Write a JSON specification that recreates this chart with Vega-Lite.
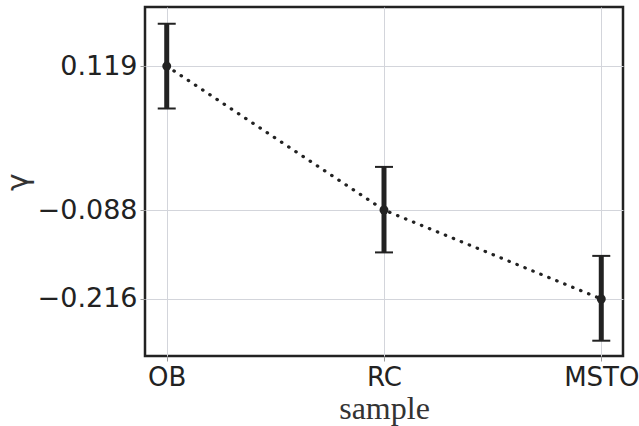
{
  "$schema": "https://vega.github.io/schema/vega-lite/v6.json",
  "width": 478,
  "height": 349,
  "autosize": {"type": "none"},
  "padding": {"left": 145, "top": 7, "right": 16, "bottom": 70},
  "background": "white",
  "config": {
    "view": {"stroke": "#222222", "strokeWidth": 2.5},
    "axis": {
      "domain": false,
      "grid": true,
      "gridColor": "#d3d5db",
      "gridWidth": 1,
      "tickSize": 5,
      "tickColor": "#999999",
      "labelFont": "DejaVu Sans",
      "labelColor": "#222222",
      "labelPadding": 3,
      "titleFontWeight": "normal",
      "titleColor": "#333333"
    }
  },
  "data": {
    "values": [
      {"sample": "OB", "gamma": 0.119, "lo": 0.058, "hi": 0.180},
      {"sample": "RC", "gamma": -0.088, "lo": -0.149, "hi": -0.026},
      {"sample": "MSTO", "gamma": -0.216, "lo": -0.276, "hi": -0.154}
    ]
  },
  "encoding": {
    "x": {
      "field": "sample",
      "type": "nominal",
      "sort": ["OB", "RC", "MSTO"],
      "scale": {"type": "point", "padding": 0.1},
      "axis": {
        "title": "sample",
        "titleFont": "Liberation Serif",
        "titleFontSize": 32,
        "titlePadding": 3,
        "labelFontSize": 26,
        "labelAngle": 0
      }
    }
  },
  "layer": [
    {
      "mark": {"type": "line", "color": "#222222", "strokeWidth": 3.2, "strokeDash": [0.5, 8.1], "strokeCap": "round"},
      "encoding": {
        "y": {
          "field": "gamma",
          "type": "quantitative",
          "scale": {"domain": [-0.298, 0.204], "nice": false, "zero": false},
          "axis": {
            "title": "γ",
            "titleFont": "DejaVu Sans",
            "titleFontSize": 30,
            "titlePadding": 4,
            "labelFontSize": 27,
            "values": [0.119, -0.088, -0.216],
            "labelExpr": "replace(format(datum.value, '.3f'), '-', '−')"
          }
        }
      }
    },
    {
      "mark": {"type": "rule", "color": "#222222", "strokeWidth": 5},
      "encoding": {
        "y": {"field": "lo", "type": "quantitative"},
        "y2": {"field": "hi"}
      }
    },
    {
      "mark": {"type": "tick", "color": "#222222", "size": 18, "thickness": 2, "opacity": 1},
      "encoding": {"y": {"field": "hi", "type": "quantitative"}}
    },
    {
      "mark": {"type": "tick", "color": "#222222", "size": 18, "thickness": 2, "opacity": 1},
      "encoding": {"y": {"field": "lo", "type": "quantitative"}}
    },
    {
      "mark": {"type": "point", "filled": true, "color": "#222222", "size": 80, "opacity": 1},
      "encoding": {"y": {"field": "gamma", "type": "quantitative"}}
    }
  ]
}
